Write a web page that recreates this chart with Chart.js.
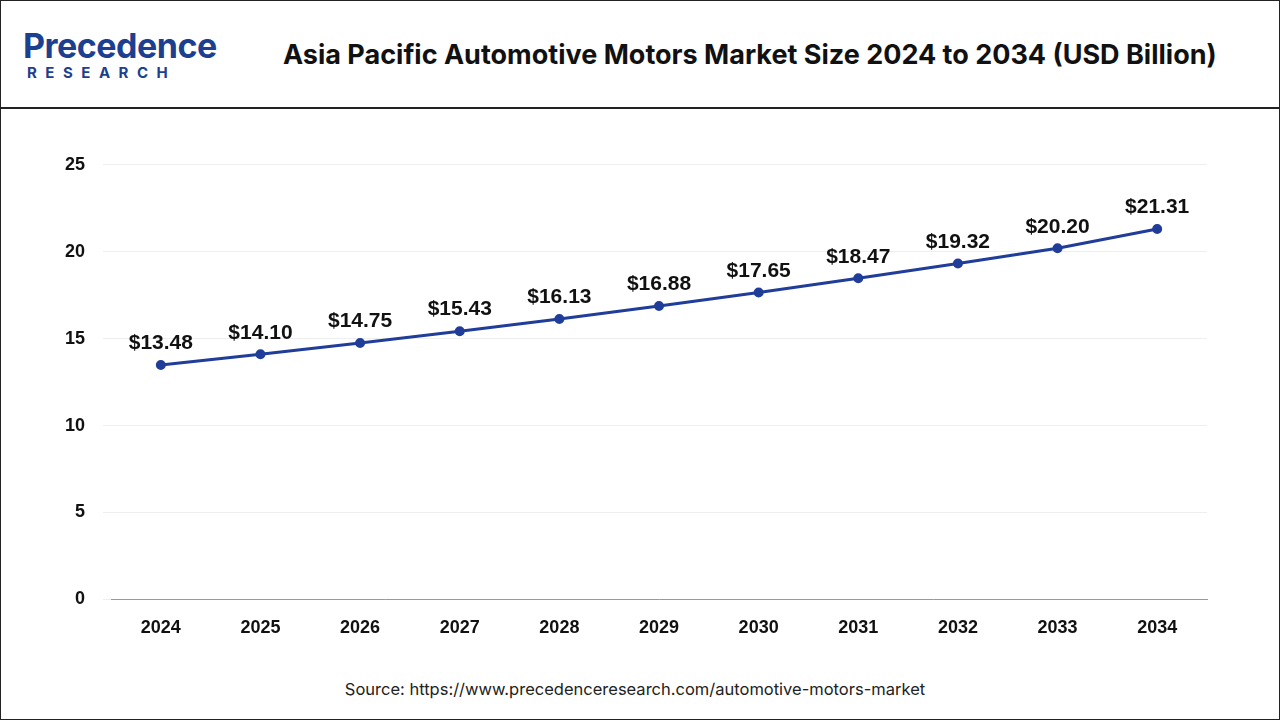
<!DOCTYPE html>
<html><head><meta charset="utf-8">
<script src="https://cdn.jsdelivr.net/npm/chart.js@4"></script>
<style>
html,body{margin:0;padding:0;background:#fff;}
#wrap{position:relative;width:1278px;height:718px;border:1px solid #222;overflow:hidden;font-family:Inter,"Open Sans",sans-serif;}
#head{position:absolute;left:0;top:0;width:1278px;height:106px;border-bottom:2px solid #222;}
#title{position:absolute;left:282px;top:37px;font-size:27px;font-weight:700;color:#111;white-space:nowrap;}
#logo1{position:absolute;left:22px;top:24px;font-size:34px;font-weight:700;color:#1d3f8f;letter-spacing:-0.5px;}
#logo2{position:absolute;left:26px;top:62px;font-size:15px;font-weight:700;color:#1d3f8f;letter-spacing:8.5px;}
#src{position:absolute;left:0;width:1268px;top:678px;text-align:center;font-size:16.5px;color:#222;}
#c{position:absolute;left:46px;top:135px;}
</style></head><body>
<div id="wrap">
<div id="head"><div id="logo1">Precedence</div><div id="logo2">RESEARCH</div>
<div id="title">Asia Pacific Automotive Motors Market Size 2024 to 2034 (USD Billion)</div></div>
<canvas id="c" width="1170" height="513" style="width:1170px;height:513px"></canvas>
<div id="src">Source: https://www.precedenceresearch.com/automotive-motors-market</div>
</div>
<script>
const years=["2024","2025","2026","2027","2028","2029","2030","2031","2032","2033","2034"];
const values=[13.48,14.10,14.75,15.43,16.13,16.88,17.65,18.47,19.32,20.20,21.31];
const yTicks=[0,5,10,15,20,25];
const labelPlugin={id:'lbl',afterDatasetsDraw(ch){const ctx=ch.ctx;const m=ch.getDatasetMeta(0);ctx.save();ctx.font='bold 21px "Liberation Sans", Arial, sans-serif';ctx.fillStyle='#111';ctx.textAlign='center';ctx.textBaseline='bottom';m.data.forEach((p,i)=>{ctx.fillText('$'+values[i].toFixed(2),p.x,p.y-11);});ctx.restore();}};
new Chart(document.getElementById('c'),{type:'line',
data:{labels:years,datasets:[{data:values,borderColor:'#1f3d99',backgroundColor:'#1f3d99',borderWidth:3,pointRadius:3.5,pointBackgroundColor:'#1f3d99',tension:0}]},
options:{responsive:false,animation:false,layout:{padding:{left:0,right:10,top:14,bottom:0}},
plugins:{legend:{display:false},tooltip:{enabled:false}},
scales:{x:{offset:true,grid:{display:false},border:{color:'#999'},ticks:{color:'#111',font:{size:18,weight:'bold',family:'"Liberation Sans", Arial'},padding:10}},
y:{min:0,max:25,afterBuildTicks(a){a.ticks=yTicks.map(v=>({value:v}));},grid:{color:'#eee'},border:{display:false},ticks:{color:'#111',font:{size:18,weight:'bold',family:'"Liberation Sans", Arial'},padding:18}}}},
plugins:[labelPlugin]});
</script></body></html>
